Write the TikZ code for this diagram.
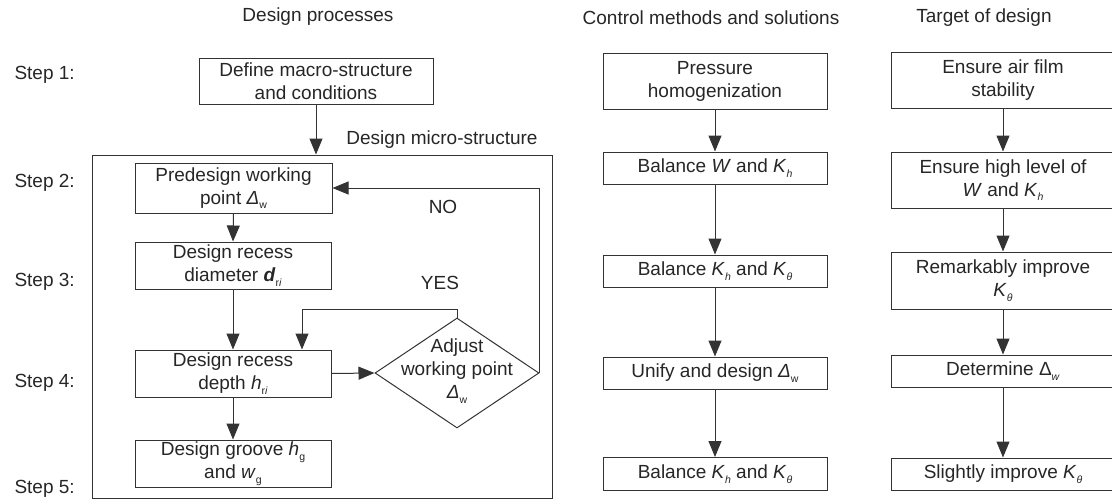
\documentclass[tikz,border=0pt]{standalone}
\usepackage{fontspec}
\setmainfont{Liberation Sans}
\usetikzlibrary{arrows.meta,shapes.geometric}
\newcommand{\sbs}[1]{\raisebox{-0.45ex}{\fontsize{10.5}{10.5}\selectfont #1}}
\begin{document}
\begin{tikzpicture}[x=1pt,y=-1pt,
  every node/.style={text=black!85, font=\fontsize{19}{23}\selectfont},
  box/.style={draw=black!80, line width=1pt, align=center, inner sep=0pt, minimum width=#1},
  box/.default=224pt,
  arr/.style={draw=black!80, line width=1pt, -{Triangle[length=16pt,width=13pt]}},
  ln/.style={draw=black!80, line width=1pt}]
\useasboundingbox (0,0) rectangle (1112,501);

% titles
\node (t1) at (318,17) {Design processes};
\node (t2) at (711,18) {Control methods and solutions};
\node (t3) at (984,18) {Target of design};

% steps
\node[anchor=west] (s1) at (11,75) {Step 1:};
\node[anchor=west] (s2) at (11,183) {Step 2:};
\node[anchor=west] (s3) at (11,282) {Step 3:};
\node[anchor=west] (s4) at (11,383) {Step 4:};
\node[anchor=west] (s5) at (11,489) {Step 5:};

% left column
\node[box=234pt, minimum height=46pt] (def) at (316,81) {Define macro-structure\\and conditions};
\node[draw=black!80, line width=1pt, minimum width=460pt, minimum height=343pt, inner sep=0pt] (frame) at (322,326.5) {};
\node (micro) at (442,140) {Design micro-structure};
\node[box=197pt, minimum height=50pt] (pre) at (233.5,188) {Predesign working\\point \textit{Δ}\sbs{w}};
\node[box=196pt, minimum height=47pt] (dia) at (233,265.5) {Design recess\\diameter \textbf{\textit{d}}\sbs{r\textit{i}}};
\node[box=196pt, minimum height=47pt] (dep) at (233,373.5) {Design recess\\depth \textit{h}\sbs{r\textit{i}}};
\node[box=196pt, minimum height=47pt] (grv) at (233,463.5) {Design groove \textit{h}\sbs{g}\\and \textit{w}\sbs{g}};
\node[diamond, draw=black!80, line width=1pt, minimum width=164pt, minimum height=110pt, inner sep=0pt] (adj) at (457,373) {};
\node[align=center] (adjt) at (457,371) {Adjust\\working point\\\textit{Δ}\sbs{w}};
\node (no) at (443,207) {NO};
\node (yes) at (440,283) {YES};
\coordinate (yt) at (302,309);

\draw[arr] (def.south) -- (def.south |- frame.north);
\draw[arr] (pre.south) -- (dia.north);
\draw[arr] (dia.south) -- (dep.north);
\draw[arr] (dep.south) -- (grv.north);
\draw[arr] (dep.east) -- (adj.west);
\draw[arr] (adj.north) |- (yt) -- (yt |- dep.north);
\draw[arr] (adj.east) |- (pre.east);

% middle column
\node[box, minimum height=56pt] (pres) at (715,81) {Pressure\\homogenization};
\node[box, minimum height=32pt] (balW) at (715,168) {Balance \textit{W} and \textit{K}\sbs{\textit{h}}};
\node[box, minimum height=32pt] (balK) at (715,271) {Balance \textit{K}\sbs{\textit{h}} and \textit{K}\sbs{\textit{θ}}};
\node[box, minimum height=32pt] (uni) at (715,373) {Unify and design \textit{Δ}\sbs{w}};
\node[box, minimum height=33pt] (balK2) at (715,474) {Balance \textit{K}\sbs{\textit{h}} and \textit{K}\sbs{\textit{θ}}};
\draw[arr] (pres) -- (balW);
\draw[arr] (balW) -- (balK);
\draw[arr] (balK) -- (uni);
\draw[arr] (uni) -- (balK2);

% right column
\node[box, minimum height=56pt] (ens) at (1003,80) {Ensure air film\\stability};
\node[box, minimum height=56pt] (high) at (1003,180) {Ensure high level of\\\textit{W} and \textit{K}\sbs{\textit{h}}};
\node[box, minimum height=57pt] (rem) at (1003,280.5) {Remarkably improve\\\textit{K}\sbs{\textit{θ}}};
\node[box, minimum height=32pt] (det) at (1003,371) {Determine Δ\sbs{\textit{w}}};
\node[box, minimum height=32pt] (sli) at (1003,474) {Slightly improve \textit{K}\sbs{\textit{θ}}};
\draw[arr] (ens) -- (high);
\draw[arr] (high) -- (rem);
\draw[arr] (rem) -- (det);
\draw[arr] (det) -- (sli);
\end{tikzpicture}
\end{document}
